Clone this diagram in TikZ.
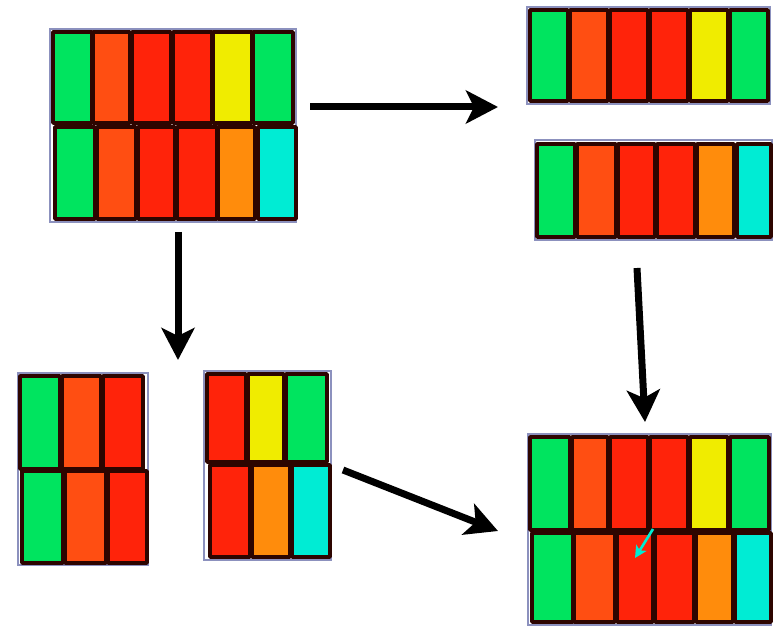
\documentclass[tikz,border=0pt]{standalone}
\usepackage{tikz}
\usetikzlibrary{arrows.meta}
\definecolor{cgreen}{RGB}{0,228,95}
\definecolor{cred}{RGB}{255,35,10}
\definecolor{corange}{RGB}{255,78,18}
\definecolor{cyellow}{RGB}{240,236,0}
\definecolor{camber}{RGB}{255,140,12}
\definecolor{ccyan}{RGB}{0,236,212}
\definecolor{cedge}{RGB}{45,5,0}
\definecolor{cframe}{RGB}{140,145,190}

\begin{document}
\begin{tikzpicture}[
        x=1pt, y=-1pt,
        cell/.style={draw=cedge, line width=3.6pt, line join=round},
        panelframe/.style={draw=cframe, line width=1.2pt},
        flow/.style={draw, line width=7pt, -{Stealth[length=32pt, width=33pt, inset=8pt]}},
        spotarrow/.style={draw=ccyan, line width=2.6pt, -{Stealth[length=12pt, width=12pt, inset=3pt]}}
    ]
    \useasboundingbox (0,0) rectangle (773,628);
    % top left
    \draw [panelframe] (50,29) rectangle (296,222);
    \foreach \xa/\xb/\c in {53/92/cgreen, 93/130/corange, 132/171/cred, 173/212/cred, 213/252/cyellow, 253/293/cgreen}
        \filldraw [cell, fill=\c] (\xa,32) rectangle (\xb,123);
    \foreach \xa/\xb/\c in {55/95/cgreen, 97/136/corange, 138/175/cred, 177/217/cred, 218/255/camber, 258/296/ccyan}
        \filldraw [cell, fill=\c] (\xa,127) rectangle (\xb,219);
    % top right
    \draw [panelframe] (527,7) rectangle (770,104);
    \foreach \xa/\xb/\c in {530/568/cgreen, 570/608/corange, 610/648/cred, 650/688/cred, 690/728/cyellow, 730/768/cgreen}
        \filldraw [cell, fill=\c] (\xa,10) rectangle (\xb,101);
    \draw [panelframe] (535,140) rectangle (772,240);
    \foreach \xa/\xb/\c in {537/575/cgreen, 577/616/corange, 618/655/cred, 657/695/cred, 697/734/camber, 737/771/ccyan}
        \filldraw [cell, fill=\c] (\xa,144) rectangle (\xb,237);
    % bottom left
    \draw [panelframe] (18,373) rectangle (148,565);
    \foreach \xa/\xb/\c in {20/60/cgreen, 62/101/corange, 103/143/cred}
        \filldraw [cell, fill=\c] (\xa,376) rectangle (\xb,469);
    \foreach \xa/\xb/\c in {22/63/cgreen, 65/106/corange, 108/147/cred}
        \filldraw [cell, fill=\c] (\xa,471) rectangle (\xb,563);
    \draw [panelframe] (204,371) rectangle (331,560);
    \foreach \xa/\xb/\c in {207/246/cred, 248/284/cyellow, 286/327/cgreen}
        \filldraw [cell, fill=\c] (\xa,374) rectangle (\xb,462);
    \foreach \xa/\xb/\c in {210/250/cred, 252/290/camber, 292/330/ccyan}
        \filldraw [cell, fill=\c] (\xa,465) rectangle (\xb,557);
    % bottom right
    \draw [panelframe] (528,434) rectangle (771,625);
    \foreach \xa/\xb/\c in {530/570/cgreen, 572/608/corange, 610/648/cred, 650/688/cred, 690/728/cyellow, 730/769/cgreen}
        \filldraw [cell, fill=\c] (\xa,437) rectangle (\xb,530);
    \foreach \xa/\xb/\c in {532/573/cgreen, 574/615/corange, 617/653/cred, 655/694/cred, 696/733/camber, 735/771/ccyan}
        \filldraw [cell, fill=\c] (\xa,533) rectangle (\xb,622);
    % arrow ends
    \coordinate (tl_right) at (310,107);
    \coordinate (tr_left) at (498,107);
    \coordinate (tl_bottom) at (178,232);
    \coordinate (bl_top) at (178,360);
    \coordinate (tr_bottom) at (637,268);
    \coordinate (br_top) at (645,422);
    \coordinate (bl_right) at (343,470);
    \coordinate (br_left) at (498,531);
    \coordinate (spot_from) at (653,529);
    \coordinate (spot_to) at (635,558);
    \path [flow] (tl_right) -- (tr_left);
    \path [flow] (tl_bottom) -- (bl_top);
    \path [flow] (tr_bottom) -- (br_top);
    \path [flow] (bl_right) -- (br_left);
    \path [spotarrow] (spot_from) -- (spot_to);
\end{tikzpicture}
\end{document}
